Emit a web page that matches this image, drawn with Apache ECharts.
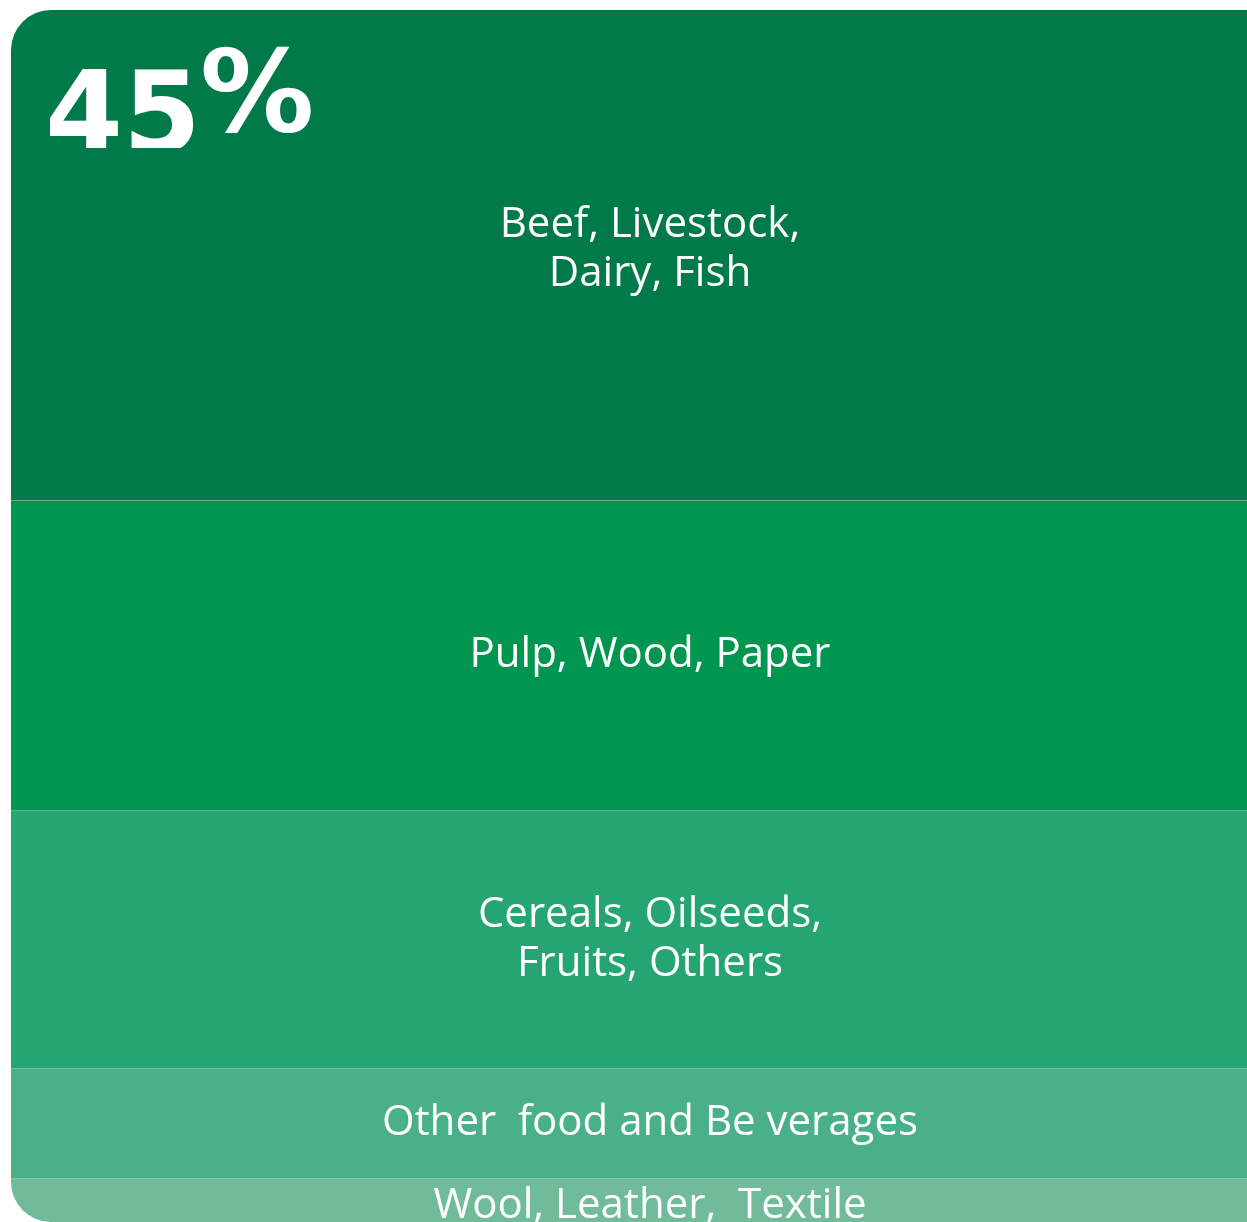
<!DOCTYPE html>
<html>
<head>
<meta charset="utf-8">
<script src="https://cdn.jsdelivr.net/npm/echarts@6/dist/echarts.min.js"></script>
<style>
  html, body { margin: 0; padding: 0; background: #fff; }
  #chart { width: 1247px; height: 1222px; }
</style>
</head>
<body>
<div id="chart"></div>
<script>
// bands, from top to bottom
var categories = ['Beef, Livestock,\nDairy, Fish', 'Pulp, Wood, Paper', 'Cereals, Oilseeds,\nFruits, Others', 'Other  food and Be verages', 'Wool, Leather,  Textile'];
var shares = [45, 28.5, 23.7, 10.1, 4.0];
var colors = ['#007a48', '#009650', '#25a572', '#49b088', '#70bb9a'];
var headline = '45%';

var total = shares.reduce(function (a, b) { return a + b; }, 0);
// small nudges so the labels sit where the original has them
var labelShift = [-5, 0, 0, 0, 6];

var series = categories.map(function (name, i) {
    var radius = [0, 0, 0, 0];
    if (i === 0) radius = [40, 0, 0, 0];
    if (i === categories.length - 1) radius = [0, 0, 0, 40];
    var s = {
        name: name,
        type: 'bar',
        stack: 'all',
        barWidth: '100%',
        data: [shares[i]],
        itemStyle: { color: colors[i], borderRadius: radius },
        label: {
            show: true,
            position: 'inside',
            offset: [0, labelShift[i]],
            formatter: name,
            color: '#fff',
            fontFamily: 'Open Sans',
            fontSize: 42,
            lineHeight: 49
        },
        emphasis: { disabled: true },
        silent: true
    };
    if (i === 0) {
        // thin light rule under the first band
        s.markLine = {
            silent: true,
            symbol: 'none',
            label: { show: false },
            lineStyle: { color: '#5fae86', width: 1, type: 'solid' },
            data: [{ yAxis: shares[0] }]
        };
    }
    return s;
});

var chart = echarts.init(document.getElementById('chart'));
chart.setOption({
    animation: false,
    // the bar runs past the right edge of the picture
    grid: { left: 11, width: 1278, top: 10, bottom: 0, outerBoundsMode: 'none' },
    xAxis: { type: 'category', data: [''], show: false },
    yAxis: { type: 'value', inverse: true, min: 0, max: total, show: false },
    series: series,
    graphic: [
        {
            type: 'text',
            left: 45, top: 66, z: 100,
            style: { text: headline.slice(0, 2), fill: '#fff', font: 'bold 112px "DejaVu Sans"' }
        },
        {
            type: 'text',
            left: 200, top: 44, z: 100,
            style: { text: headline.slice(2), fill: '#fff', font: 'bold 114px "DejaVu Sans"' }
        },
        {
            // headline is cut off along its bottom edge in the original
            type: 'rect', z: 101,
            shape: { x: 40, y: 148, width: 290, height: 40 },
            style: { fill: colors[0] }
        }
    ]
});
</script>
</body>
</html>
